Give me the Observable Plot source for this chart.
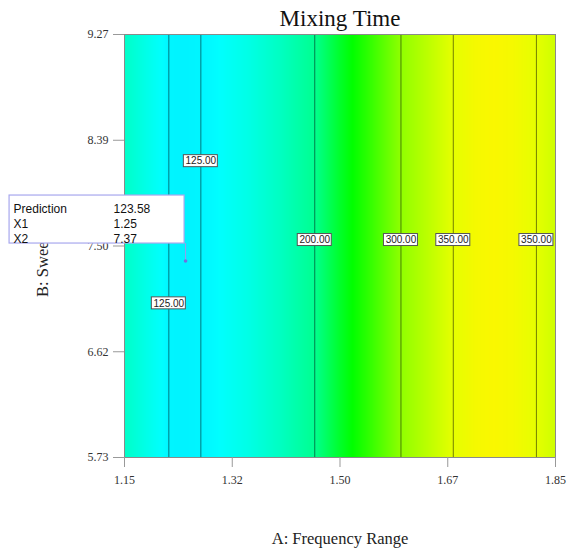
<!DOCTYPE html>
<html><head><meta charset="utf-8">
<script src="https://cdn.jsdelivr.net/npm/d3@7"></script>
<script src="https://cdn.jsdelivr.net/npm/@observablehq/plot@0.6"></script>
<style>body{margin:0;background:#fff;} #chart{width:569px;height:555px;}</style>
</head><body><div id="chart"></div>
<script>
const title = "Mixing Time";
const xLabel = "A: Frequency Range";
const yLabel = "B: Sweep Time";
const xTicks = [1.15, 1.325, 1.50, 1.675, 1.85];
const xTickLabels = ["1.15", "1.32", "1.50", "1.67", "1.85"];
const yTicks = [5.73, 6.615, 7.50, 8.385, 9.27];
const yTickLabels = ["5.73", "6.62", "7.50", "8.39", "9.27"];

// estimated response (mixing time) along A; surface is flat along B
const surfaceX = [1.15, 1.175, 1.20, 1.222, 1.248, 1.274, 1.30, 1.35, 1.40, 1.459, 1.50, 1.52, 1.55, 1.599, 1.65, 1.684, 1.72, 1.75, 1.78, 1.819, 1.85];
const surfaceV = [165, 150, 136, 125, 123.6, 125, 129, 145, 167, 200, 228, 240, 262, 300, 330, 350, 362, 366, 362, 350, 336];

// contour lines
const contourX = [1.222, 1.274, 1.459, 1.599, 1.684, 1.819];
const contourLevel = [125, 125, 200, 300, 350, 350];
const contourLabelY = [7.02, 8.21, 7.55, 7.55, 7.55, 7.55];

// colour ramp
const colorStops = [120, 130, 200, 240, 300, 350, 370];
const colorRange = ["#00ecff", "#00ffff", "#00ff90", "#00ff00", "#90ff00", "#e6ff00", "#fff500"];

// prediction flag
const predLabels = ["Prediction", "X1", "X2"];
const predValues = ["123.58", "1.25", "7.37"];
const predX1 = 1.25, predX2 = 7.37;

const valueAt = d3.scaleLinear().domain(surfaceX).range(surfaceV).clamp(true);
const contours = contourX.map((x, i) => ({x, y: contourLabelY[i], level: contourLevel[i]}));

const plot = Plot.plot({
  width: 569, height: 555,
  marginLeft: 124, marginRight: 14, marginTop: 34, marginBottom: 98,
  style: {fontFamily: "Liberation Serif", fontSize: "12px", background: "white", overflow: "visible"},
  x: {domain: [1.15, 1.85]},
  y: {domain: [5.73, 9.27]},
  color: {type: "linear", domain: colorStops, range: colorRange},
  marks: [
    Plot.raster({x1: 1.15, x2: 1.85, y1: 5.73, y2: 9.27, fill: (x, y) => valueAt(x), pixelSize: 1}),
    Plot.ruleX(contours, {x: "x", stroke: "#000", strokeOpacity: 0.5}),
    Plot.frame({stroke: "#8a8a8a"}),
    Plot.axisX({ticks: xTicks, tickFormat: d => xTickLabels[xTicks.indexOf(d)], tickSize: 10, tickPadding: 8, stroke: "#999", fill: "#333", label: null}),
    Plot.axisY({ticks: yTicks, tickFormat: d => yTickLabels[yTicks.indexOf(d)], tickSize: 11, tickPadding: 5, stroke: "#999", fill: "#333", label: null}),
    Plot.rect(contours, {x1: "x", x2: "x", y1: "y", y2: "y", insetLeft: -17, insetRight: -17, insetTop: -6, insetBottom: -6, fill: "white", stroke: "#555"}),
    Plot.text(contours, {x: "x", y: "y", text: d => d.level.toFixed(2), fontFamily: "Liberation Sans", fontSize: 10, fill: "#222"}),
    Plot.text([title], {frameAnchor: "top", dy: -16, lineAnchor: "middle", textAnchor: "middle", fontSize: 23, fill: "#111"}),
    Plot.text([xLabel], {frameAnchor: "bottom", dy: 81, lineAnchor: "middle", textAnchor: "middle", fontSize: 16.5, fill: "#222"}),
    Plot.text([yLabel], {frameAnchor: "left", dx: -82, rotate: -90, lineAnchor: "middle", textAnchor: "middle", fontSize: 16.5, fill: "#222"})
  ]
});
document.getElementById("chart").appendChild(plot);

// prediction flag overlay positioned from the plot's scales
const svg = d3.select(plot);
const px = plot.scale("x").apply(predX1);
const py = plot.scale("y").apply(predX2);
const g = svg.append("g").attr("text-anchor", "start");
g.append("line").attr("x1", px).attr("x2", px).attr("y1", py).attr("y2", py - 18)
  .attr("stroke", "#9a9ae8").attr("stroke-width", 1);
g.append("circle").attr("cx", px).attr("cy", py).attr("r", 1.8).attr("fill", "#7070e0");
g.append("rect").attr("x", px - 176.5).attr("y", py - 66).attr("width", 175).attr("height", 48)
  .attr("fill", "white").attr("stroke", "#a8a8ee").attr("stroke-width", 1.2);
predLabels.forEach((t, i) => {
  g.append("text").attr("x", px - 172).attr("y", py - 52 + i * 15).attr("dy", "0.35em")
    .attr("text-anchor", "start")
    .attr("font-family", "Liberation Sans").attr("font-size", 12).attr("fill", "#111").text(t);
  g.append("text").attr("x", px - 72).attr("y", py - 52 + i * 15).attr("dy", "0.35em")
    .attr("text-anchor", "start")
    .attr("font-family", "Liberation Sans").attr("font-size", 12).attr("fill", "#111").text(predValues[i]);
});
</script>
</body></html>
